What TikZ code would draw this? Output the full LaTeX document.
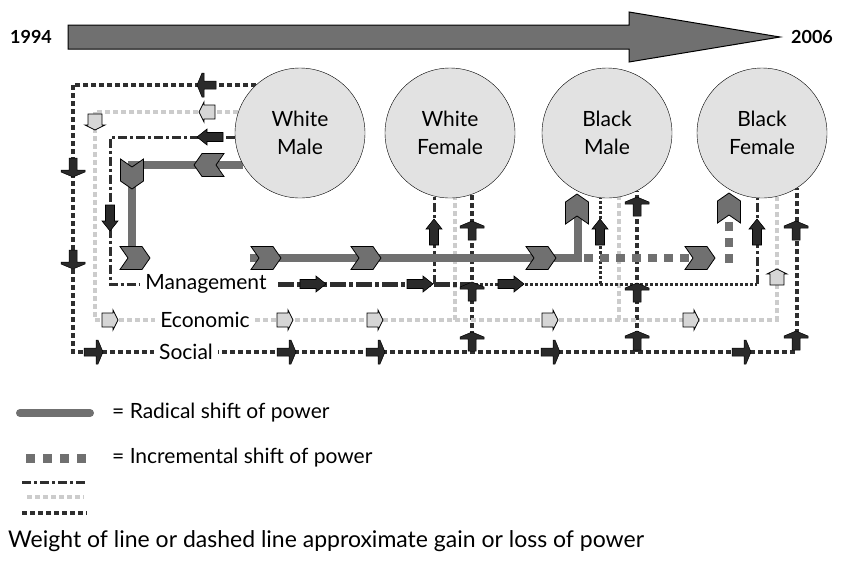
\documentclass[tikz,border=0pt]{standalone}
\usepackage{fontspec}
\setmainfont{Lato}
\usetikzlibrary{backgrounds}
\definecolor{shiftgray}{HTML}{707070}
\definecolor{circgray}{HTML}{E2E2E2}
\definecolor{darkline}{HTML}{2E2E2E}
\definecolor{lightline}{HTML}{CCCCCC}
\definecolor{arrowdark}{HTML}{2A2A2A}
\definecolor{arrowlight}{HTML}{D6D6D6}

\begin{document}
\begin{tikzpicture}[x=1pt,y=-1pt,
  group/.style={circle,draw=black,fill=circgray,minimum size=130pt,align=center,
    font=\fontsize{21}{28}\selectfont},
  rowlabel/.style={fill=white,inner sep=5pt,font=\fontsize{21}{24}\selectfont},
  legendtext/.style={anchor=west,inner sep=0pt,font=\fontsize{21}{24}\selectfont},
  radical/.style={line width=8pt,draw=shiftgray},
  incremental/.style={line width=8pt,draw=shiftgray,dash pattern=on 9pt off 7pt},
  mgmt/.style={line width=3pt,draw=darkline,dash pattern=on 9pt off 3pt on 3pt off 3pt},
  mgmtheavy/.style={line width=5pt,draw=darkline,dash pattern=on 16pt off 3pt on 4pt off 3pt},
  mgmtdot/.style={line width=3pt,draw=darkline,dash pattern=on 3pt off 2pt},
  econ/.style={line width=4pt,draw=lightline,dash pattern=on 5pt off 3pt},
  social/.style={line width=4pt,draw=darkline,dash pattern=on 5pt off 3pt},
  chevron/.pic={\filldraw[fill=shiftgray,draw=black,line width=0.8pt]
    (-15,-11.5) -- (7,-11.5) -- (15,0) -- (7,11.5) -- (-15,11.5) -- (-7,0) -- cycle;},
  mgmtarrow/.pic={\filldraw[fill=arrowdark,draw=black,line width=0.6pt]
    (-13,-4.5) -- (3,-4.5) -- (3,-8) -- (13,0) -- (3,8) -- (3,4.5) -- (-13,4.5) -- cycle;},
  econarrow/.pic={\filldraw[fill=arrowlight,draw=black,line width=0.8pt]
    (-8,-7) -- (3,-7) -- (3,-10) -- (8,0) -- (3,10) -- (3,7) -- (-8,7) -- cycle;},
  socialarrow/.pic={\filldraw[fill=arrowdark,draw=black,line width=0.5pt]
    (-10,-4) -- (2,-4) -- (2,-12) -- (4,-12) -- (9,0) -- (4,12) -- (2,12) -- (2,4) -- (-10,4) -- cycle;}]
  \useasboundingbox (0,0) rectangle (842,566);

  % time line
  \filldraw[fill=shiftgray,draw=black,line width=1pt]
    (68,25) -- (629,25) -- (629,12) -- (780,37) -- (629,62) -- (629,49) -- (68,49) -- cycle;
  \node[font=\bfseries\fontsize{18}{20}\selectfont] (start) at (31,37) {1994};
  \node[font=\bfseries\fontsize{18}{20}\selectfont] (end) at (812,37) {2006};

  % groups
  \node[group] (wm) at (300,133) {White\\Male};
  \node[group] (wf) at (450,133) {White\\Female};
  \node[group] (bm) at (607,133) {Black\\Male};
  \node[group] (bf) at (762,133) {Black\\Female};

  \begin{scope}[on background layer]
    \draw[social] (wm.132) -| (73,352) -| (bf.302);
    \draw[social] (wf.290 |- 0,352) -- (wf.290);
    \draw[social] (bm.297 |- 0,352) -- (bm.297);
    \draw[econ] (wm.161) -| (95,320) -| (bf.283);
    \draw[econ] (wf.274 |- 0,320) -- (wf.274);
    \draw[econ] (bm.281 |- 0,320) -- (bm.281);
    \draw[mgmt] (wm.184) -| (110,284) -- (140,284);
    \draw[mgmtheavy] (278,284) -- (470,284);
    \draw[mgmtdot] (470,284) -- (bf.266 |- 0,284);
    \draw[mgmt] (bf.266 |- 0,284) -- (bf.266);
    \draw[mgmt] (wf.256 |- 0,284) -- (wf.256);
    \draw[mgmtdot] (bm.264 |- 0,284) -- (bm.264);
    \draw[radical] (wm.209) -| (132,258);
    \draw[radical] (250,258) -| (578,209);
    \draw[incremental] (584,258) -- (690,258);
    \draw[incremental] (729,263) -- (729,220);
  \end{scope}

  \node[rowlabel] (mgmtlabel) at (206,284) {Management};
  \node[rowlabel] (econlabel) at (205,320) {Economic};
  \node[rowlabel] (sociallabel) at (186,352) {Social};

  % radical / incremental shifts
  \pic[rotate=180] at (209,165) {chevron};
  \pic[rotate=-90] at (132,174) {chevron};
  \foreach \x in {135,266,366,541,700} \pic at (\x,258) {chevron};
  \pic[rotate=90] at (577,209) {chevron};
  \pic[rotate=90] at (729,208) {chevron};

  % management
  \pic[rotate=180] at (210,137) {mgmtarrow};
  \pic[rotate=-90] at (110,218) {mgmtarrow};
  \foreach \x in {313,420,511} \pic at (\x,284) {mgmtarrow};
  \foreach \x in {434,600,757} \pic[rotate=90] at (\x,232) {mgmtarrow};

  % economic
  \pic[rotate=180] at (207,112) {econarrow};
  \pic[rotate=-90] at (95,122) {econarrow};
  \foreach \x in {110,285,375,550,691} \pic at (\x,320) {econarrow};
  \pic[rotate=90] at (777,277) {econarrow};

  % social
  \pic[rotate=180] at (206,85) {socialarrow};
  \foreach \y in {168,260} \pic[rotate=-90] at (73,\y) {socialarrow};
  \foreach \x in {94,287,376,551,742} \pic at (\x,352) {socialarrow};
  \foreach \y in {230,291,341} \pic[rotate=90] at (472,\y) {socialarrow};
  \foreach \y in {206,292,340} \pic[rotate=90] at (637,\y) {socialarrow};
  \foreach \y in {230,340} \pic[rotate=90] at (796,\y) {socialarrow};

  % legend
  \draw[radical,line cap=round] (20,413) -- (90,413);
  \node[legendtext] (radtext) at (112,413) {= Radical shift of power};
  \draw[incremental,line width=9pt,dash pattern=on 9pt off 8pt] (26,458) -- (86,458);
  \node[legendtext] (inctext) at (112,458) {= Incremental shift of power};
  \draw[mgmt] (22,482) -- (87,482);
  \draw[econ] (27,497) -- (84,497);
  \draw[social] (22,513) -- (87,513);
  \node[legendtext,font=\fontsize{23}{26}\selectfont] (note) at (8,541)
    {Weight of line or dashed line approximate gain or loss of power};
\end{tikzpicture}
\end{document}
